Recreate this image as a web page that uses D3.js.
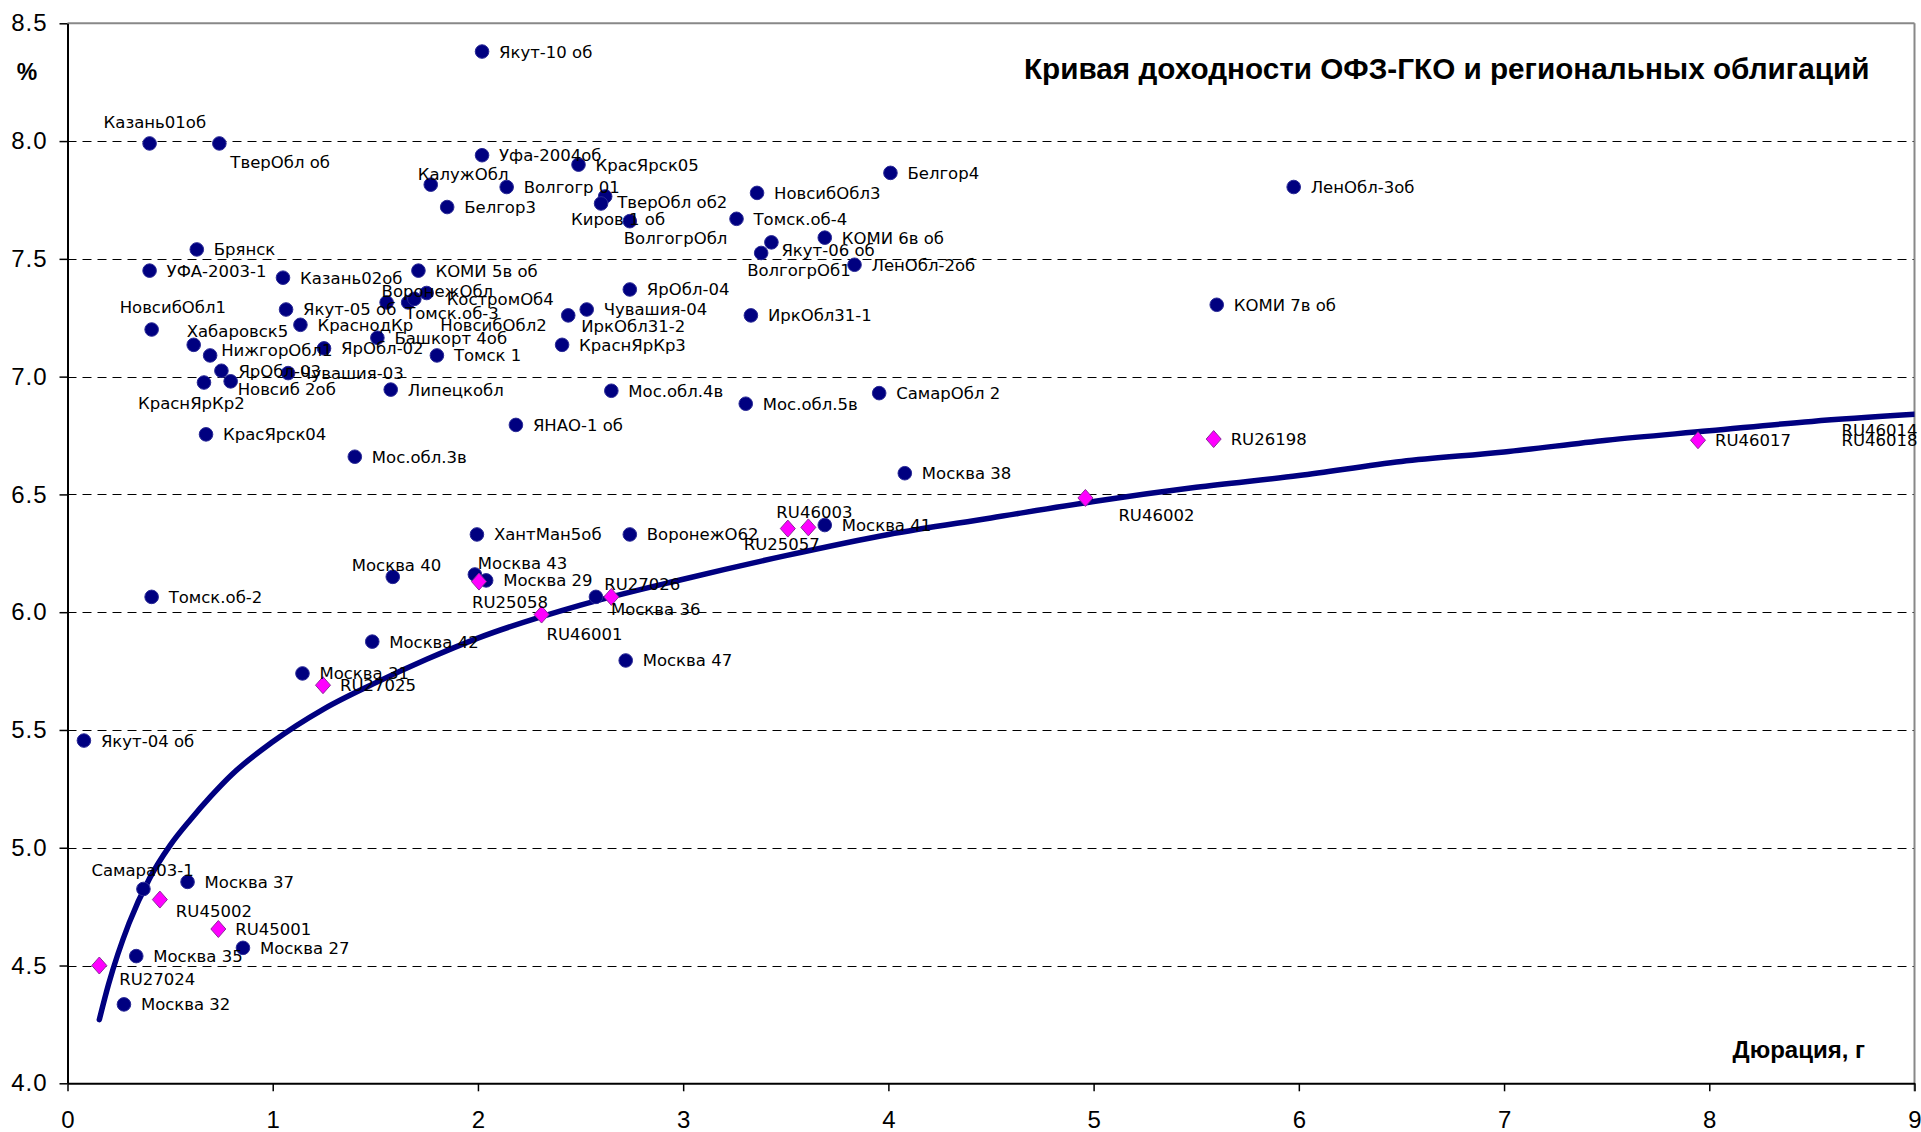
<!DOCTYPE html>
<html>
<head>
<meta charset="utf-8">
<script src="https://cdn.jsdelivr.net/npm/d3@7"></script>
<style>
  body { margin: 0; background: #fff; }
</style>
</head>
<body>
<div class="chart"></div>
<script>
// regional bonds (navy dots): name, duration (years), yield (%)
const regNames = ['Якут-10 об','Казань01об','ТверОбл об','Уфа-2004об','КрасЯрск05','Белгор4','КалужОбл','Волгогр 01',
  'НовсибОбл3','ЛенОбл-3об','Белгор3','ТверОбл об2','Киров 1 об','ВолгогрОбл','Томск.об-4','КОМИ 6в об','Якут-06 об',
  'ВолгогрОб1','ЛенОбл-2об','Брянск','УФА-2003-1','Казань02об','КОМИ 5в об','КОМИ 7в об','ЯрОбл-04','ВоронежОбл',
  'Томск.об-3','НовсибОбл2','КостромОб4','Чувашия-04','ИркОбл31-2','ИркОбл31-1','НовсибОбл1','Якут-05 об','КраснодКр',
  'Хабаровск5','НижгорОбл1','ЯрОбл-02','Башкорт 4об','Томск 1','КраснЯрКр3','ЯрОбл-03','Чувашия-03','КраснЯрКр2',
  'Новсиб 2об','Липецкобл','Мос.обл.4в','Мос.обл.5в','СамарОбл 2','ЯНАО-1 об','КрасЯрск04','Мос.обл.3в','Москва 38',
  'ХантМан5об','ВоронежО62','Москва 41','Москва 40','Москва 43','Москва 29','Москва 36','Томск.об-2','Москва 42',
  'Москва 47','Москва 31','Якут-04 об','Самара03-1','Москва 37','Москва 35','Москва 27','Москва 32'];
const regDur = [2.02,0.40,0.74,2.02,2.49,4.01,1.77,2.14,
  3.36,5.975,1.85,2.62,2.60,2.74,3.26,3.69,3.43,
  3.38,3.835,0.63,0.40,1.05,1.71,5.60,2.74,1.555,
  1.66,1.69,1.75,2.53,2.44,3.33,0.41,1.065,1.135,
  0.615,0.695,1.25,1.51,1.80,2.41,0.75,1.075,0.665,
  0.795,1.575,2.65,3.305,3.955,2.185,0.675,1.40,4.08,
  1.995,2.74,3.69,1.585,1.985,2.04,2.575,0.41,1.485,
  2.72,1.145,0.08,0.37,0.585,0.335,0.855,0.275];
const regYield = [8.38,7.99,7.99,7.94,7.90,7.865,7.815,7.805,
  7.78,7.805,7.72,7.765,7.735,7.66,7.67,7.59,7.57,
  7.525,7.475,7.54,7.45,7.42,7.45,7.305,7.37,7.315,
  7.315,7.33,7.355,7.285,7.26,7.26,7.20,7.285,7.22,
  7.135,7.09,7.12,7.165,7.09,7.135,7.025,7.015,6.975,
  6.98,6.945,6.94,6.885,6.93,6.795,6.755,6.66,6.59,
  6.33,6.33,6.37,6.15,6.16,6.135,6.065,6.065,5.875,
  5.795,5.74,5.455,4.825,4.855,4.54,4.575,4.335];

// OFZ-GKO (magenta diamonds)
const ofzNames = ['RU27024','RU45002','RU45001','RU27025','RU25058','RU46001','RU27026','RU25057',
  'RU46003','RU46002','RU26198','RU46017','RU46014','RU46018'];
const ofzDur = [0.155,0.45,0.735,1.245,2.005,2.31,2.65,3.51,3.61,4.96,5.585,7.945,9.3,9.3];
const ofzYield = [4.50,4.78,4.655,5.69,6.13,5.99,6.065,6.355,6.36,6.485,6.735,6.73,6.775,6.73];

// OFZ yield curve
const curveDur = [0.155,0.2,0.3,0.4,0.5,0.6,0.7,0.8,1.0,1.25,1.5,1.75,2.0,2.5,3.0,3.5,4.0,4.5,5.0,5.5,6.0,6.5,7.0,7.5,8.0,8.5,9.0];
const curveYield = [4.27,4.42,4.68,4.87,5.01,5.12,5.22,5.31,5.45,5.59,5.70,5.80,5.89,6.03,6.14,6.24,6.33,6.40,6.47,6.53,6.58,6.64,6.68,6.73,6.77,6.81,6.84];

const xTicks = [0,1,2,3,4,5,6,7,8,9];
const yTicks = [4.0,4.5,5.0,5.5,6.0,6.5,7.0,7.5,8.0,8.5];

// label nudges (px) where the label is not just right of its marker
const labelShift = {
  'Казань01об': [-46,-21], 'ТверОбл об': [11,19], 'КалужОбл': [-13,-11], 'ТверОбл об2': [12,6],
  'Киров 1 об': [-30,16], 'ВолгогрОбл': [-6,17], 'Якут-06 об': [10,8], 'ВолгогрОб1': [-14,17],
  'ВоронежОбл': [-5,-11], 'Томск.об-3': [-3,11], 'НовсибОбл2': [26,26], 'КостромОб4': [20,6],
  'ИркОбл31-2': [13,11], 'НовсибОбл1': [-32,-22], 'Хабаровск5': [-7,-14], 'НижгорОбл1': [11,-5],
  'Чувашия-03': [12,0], 'КраснЯрКр2': [-66,21], 'Новсиб 2об': [7,8], 'Москва 40': [-41,-12],
  'Москва 43': [3,-11], 'Москва 36': [15,12], 'Самара03-1': [-52,-19],
  'RU27024': [20,14], 'RU45002': [16,11], 'RU25058': [-7,20], 'RU46001': [5,20], 'RU27026': [-7,-13],
  'RU25057': [-44,15], 'RU46003': [-32,-15], 'RU46002': [33,17]
};

const W = 1921, H = 1132;
const svg = d3.select(".chart").append("svg").attr("width", W).attr("height", H);

const x = d3.scaleLinear().domain([0, 9]).range([67.5, 1914.5]);
const y = d3.scaleLinear().domain([4, 8.5]).range([1083.3, 23.3]);

svg.append("clipPath").attr("id", "plot")
  .append("rect")
  .attr("x", x(0)).attr("y", y(8.5))
  .attr("width", x(9) - x(0)).attr("height", y(4) - y(8.5));

// dashed gridlines
svg.append("g")
  .selectAll("line")
  .data(yTicks.filter(v => v > 4 && v < 8.5))
  .join("line")
  .attr("x1", x(0)).attr("x2", x(9))
  .attr("y1", d => Math.round(y(d)) + 0.5).attr("y2", d => Math.round(y(d)) + 0.5)
  .attr("stroke", "#000").attr("stroke-width", 1)
  .attr("stroke-dasharray", "9,6");

// grey frame top / right
svg.append("line")
  .attr("x1", x(0)).attr("x2", x(9)).attr("y1", y(8.5)).attr("y2", y(8.5))
  .attr("stroke", "#888").attr("stroke-width", 2);
svg.append("line")
  .attr("x1", x(9)).attr("x2", x(9)).attr("y1", y(8.5)).attr("y2", y(4) + 8)
  .attr("stroke", "#888").attr("stroke-width", 2);

// axes
const yAxis = d3.axisLeft(y).tickValues(yTicks).tickFormat(d3.format(".1f"))
  .tickSize(8).tickSizeOuter(0).tickPadding(12);
const gy = svg.append("g").attr("transform", `translate(${x(0)},0)`).call(yAxis);

const xAxis = d3.axisBottom(x).tickValues(xTicks).tickFormat(d3.format("d"))
  .tickSize(8).tickSizeOuter(0).tickPadding(20);
const gx = svg.append("g").attr("transform", `translate(0,${y(4)})`).call(xAxis);

[gx, gy].forEach(g => {
  g.attr("font-family", "'Liberation Sans', Arial, sans-serif").attr("font-size", 24);
  g.select(".domain").attr("stroke", "#000").attr("stroke-width", 2);
  g.selectAll(".tick line").attr("stroke", "#000").attr("stroke-width", 1.5);
  g.selectAll(".tick text").attr("fill", "#000");
});
gy.selectAll(".tick text").attr("letter-spacing", 1);

// OFZ curve
const line = d3.line().x(d => x(d[0])).y(d => y(d[1])).curve(d3.curveMonotoneX);
svg.append("path")
  .datum(d3.zip(curveDur, curveYield))
  .attr("clip-path", "url(#plot)")
  .attr("d", line)
  .attr("fill", "none")
  .attr("stroke", "#000080")
  .attr("stroke-width", 5.5)
  .attr("stroke-linecap", "round");

const reg = regNames.map((n, i) => ({ name: n, dur: regDur[i], yld: regYield[i] }));
const ofz = ofzNames.map((n, i) => ({ name: n, dur: ofzDur[i], yld: ofzYield[i] }));

const marks = svg.append("g").attr("clip-path", "url(#plot)");

marks.selectAll("circle")
  .data(reg)
  .join("circle")
  .attr("cx", d => x(d.dur))
  .attr("cy", d => y(d.yld))
  .attr("r", 6.8)
  .attr("fill", "#000080")
  .attr("stroke", "#2a2a96")
  .attr("stroke-width", 1);

marks.selectAll("path")
  .data(ofz)
  .join("path")
  .attr("transform", d => `translate(${x(d.dur)},${y(d.yld)})`)
  .attr("d", "M0,-8.5L7.5,0L0,8.5L-7.5,0Z")
  .attr("fill", "#ff00ff")
  .attr("stroke", "#8a2a9a")
  .attr("stroke-width", 1);

// point labels
const labels = svg.append("g")
  .attr("font-family", "'DejaVu Sans', Verdana, sans-serif")
  .attr("font-size", 16.5)
  .attr("fill", "#000");

labels.selectAll("text")
  .data(reg.concat(ofz))
  .join("text")
  .attr("x", d => {
    if (d.dur > 9) return x(9) + 3;
    const s = labelShift[d.name] || [17, 0];
    return x(d.dur) + s[0];
  })
  .attr("y", d => {
    const s = labelShift[d.name] || [17, 0];
    return y(d.yld) + s[1];
  })
  .attr("dy", "0.36em")
  .attr("text-anchor", d => d.dur > 9 ? "end" : "start")
  .text(d => d.name);

// title and axis captions
svg.append("text")
  .attr("x", 1024).attr("y", 79)
  .attr("font-family", "'Liberation Sans', Arial, sans-serif")
  .attr("font-weight", "bold").attr("font-size", 29.7)
  .text("Кривая доходности ОФЗ-ГКО и региональных облигаций");

svg.append("text")
  .attr("x", 27).attr("y", 80)
  .attr("text-anchor", "middle")
  .attr("font-family", "'Liberation Sans', Arial, sans-serif")
  .attr("font-weight", "bold").attr("font-size", 23)
  .text("%");

svg.append("text")
  .attr("x", 1865).attr("y", 1058)
  .attr("text-anchor", "end")
  .attr("font-family", "'Liberation Sans', Arial, sans-serif")
  .attr("font-weight", "bold").attr("font-size", 24)
  .text("Дюрация, г");
</script>
</body>
</html>
